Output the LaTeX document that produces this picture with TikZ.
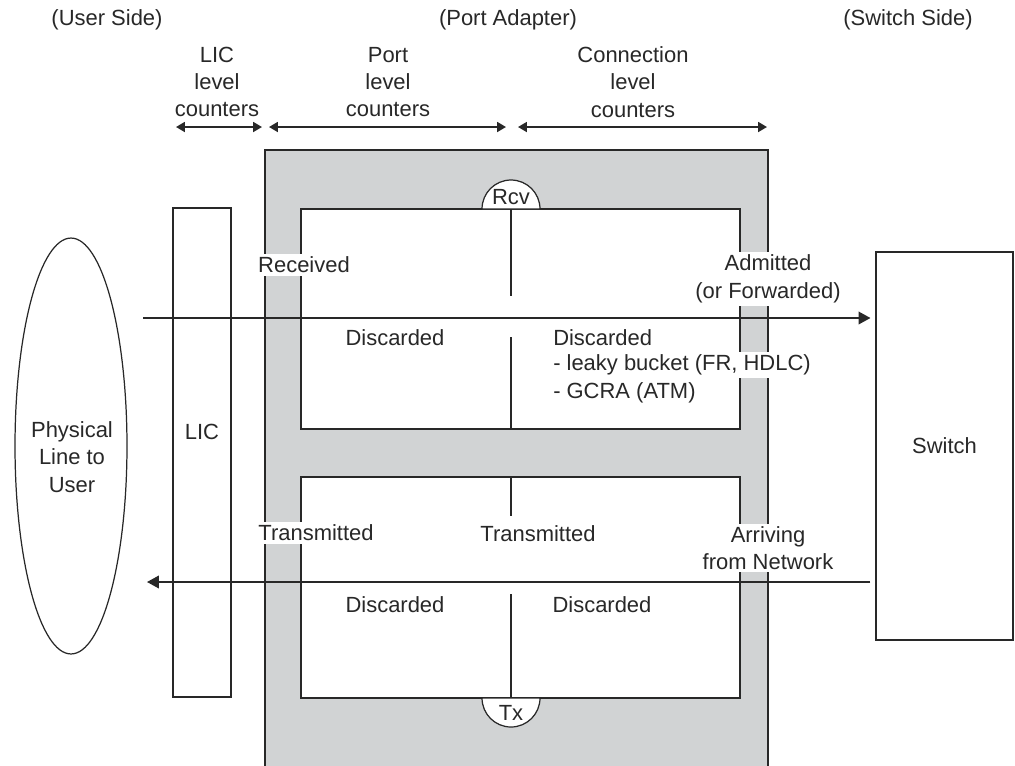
\documentclass[tikz,border=0pt]{standalone}
\usepackage{fontspec}
\setmainfont{Liberation Sans}
\usetikzlibrary{arrows.meta}
\definecolor{padgrey}{RGB}{209,211,212}
\definecolor{inkgrey}{RGB}{40,40,40}
\tikzset{every path/.style={inkgrey,line width=0.7pt},
  lbl/.style={fill=white,inner sep=1.5pt,align=center,font=\fontsize{12.5}{15.6}\selectfont},
  lblplain/.style={inner sep=1pt,align=center,font=\fontsize{12.5}{15.6}\selectfont},
  flow/.style={line width=1pt,-{Triangle[length=6.8pt,width=7.2pt]}},
  span/.style={line width=1pt,{Triangle[length=5pt,width=5.6pt]}-{Triangle[length=5pt,width=5.6pt]}}}

\begin{document}
\begin{tikzpicture}[x=0.02cm,y=-0.02cm]
   \useasboundingbox (0,0) rectangle (1015,765);
   \fill[padgrey] (265,150) rectangle (768,766);
   \draw (265,766) -- (265,150) -- (768,150) -- (768,766);
   \draw[fill=white] (301,209) rectangle (740,429);
   \draw[fill=white] (301,477) rectangle (740,698);
   \draw[fill=white] (540,209) arc[start angle=0,end angle=180,radius=0.58cm] -- cycle;
   \draw[fill=white] (540,698) arc[start angle=0,end angle=-180,radius=0.58cm] -- cycle;
   \draw (511,209) -- (511,296);
   \draw (511,337) -- (511,429);
   \draw (511,477) -- (511,516);
   \draw (511,594) -- (511,698);
   \draw (71,446) ellipse [x radius=1.12cm, y radius=4.16cm];
   \draw (173,208) rectangle (231,697);
   \node[draw,minimum width=2.74cm,minimum height=7.76cm,inner sep=0pt,lblplain] (sw) at (944.5,446) {Switch};

   \coordinate (l1) at (176,127);
   \coordinate (l2) at (262,127);
   \coordinate (p1) at (269,127);
   \coordinate (p2) at (506,127);
   \coordinate (c1) at (518,127);
   \coordinate (c2) at (767,127);
   \draw[span] (l1) -- (l2);
   \draw[span] (p1) -- (p2);
   \draw[span] (c1) -- (c2);

   \coordinate (rxin) at (143,318);
   \coordinate (txout) at (147,582);
   \draw[flow,shorten >=2.8pt] (rxin) -- (rxin -| sw.west);
   \draw[flow,shorten <=2.8pt] (txout -| sw.west) -- (txout);

   \node[lbl] (uside) at (107,20) {(User Side)};
   \node[lbl] (pside) at (508,20) {(Port Adapter)};
   \node[lbl] (sside) at (908,20) {(Switch Side)};
   \node[lbl] (liccnt) at (217,82) {LIC\\level\\counters};
   \node[lbl] (portcnt) at (388,82) {Port\\level\\counters};
   \node[lbl] (conncnt) at (633,82) {Connection\\level\\counters};

   \node[lblplain] (rcv) at (511,197) {Rcv};
   \node[lblplain] (tx) at (511,713) {Tx};
   \node[lbl] (recv) at (304,265) {Received};
   \node[lbl] (admit) at (768,279) {Admitted\\(or Forwarded)};
   \node[lbl] (pdisc) at (395,338) {Discarded};
   \node[lbl,anchor=west] (cdisc) at (550,338) {Discarded};
   \node[lbl,anchor=west] (cleak) at (550,365) {- leaky bucket (FR, HDLC)};
   \node[lbl,anchor=west] (cgcra) at (550,393) {- GCRA (ATM)};
   \node[lbl] (ltrans) at (316,533) {Transmitted};
   \node[lbl] (ptrans) at (538,534) {Transmitted};
   \node[lbl] (arrive) at (768,548) {Arriving\\from Network};
   \node[lbl] (tdisc) at (395,605) {Discarded};
   \node[lbl] (tcdisc) at (602,605) {Discarded};
   \node[lblplain] (phys) at (72,457) {Physical\\Line to\\User};
   \node[lblplain] (lic) at (202,432) {LIC};
\end{tikzpicture}
\end{document}
